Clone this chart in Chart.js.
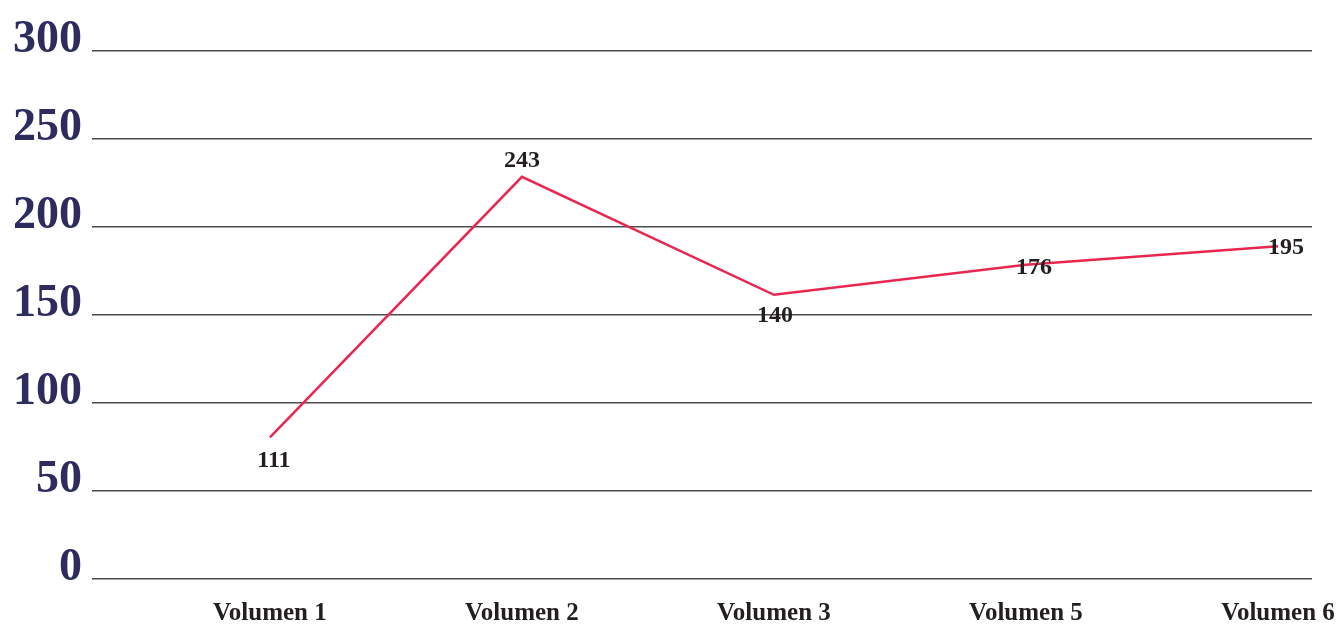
<!DOCTYPE html>
<html>
<head>
<meta charset="utf-8">
<script src="https://cdn.jsdelivr.net/npm/chart.js@4/dist/chart.umd.min.js"></script>
<style>
html,body{margin:0;padding:0;background:#fff;}
#wrap{width:1340px;height:627px;position:relative;}
</style>
</head>
<body>
<div id="wrap"><canvas id="c" width="1340" height="627"></canvas></div>
<script>
// Categories (x axis)
const categories = ['Volumen 1', 'Volumen 2', 'Volumen 3', 'Volumen 5', 'Volumen 6'];
// Line heights as read against the y axis
const lineValues = [80.5, 228.5, 161.5, 178.5, 189];
// Value labels printed next to the points
const pointLabels = ['111', '243', '140', '176', '195'];
// Y tick labels
const yTicks = [0, 50, 100, 150, 200, 250, 300];

const points = categories.map((c, i) => ({x: i, y: lineValues[i]}));

const labelPlugin = {
  id: 'pointLabels',
  afterDatasetsDraw(chart, args, opts) {
    const ctx = chart.ctx;
    const meta = chart.getDatasetMeta(0);
    ctx.save();
    ctx.font = opts.font;
    ctx.fillStyle = opts.color;
    ctx.textAlign = 'center';
    ctx.textBaseline = 'middle';
    meta.data.forEach((pt, i) => {
      const off = opts.offsets[i];
      ctx.fillText(pointLabels[i], pt.x + off[0], pt.y + off[1]);
    });
    ctx.restore();
  }
};

new Chart(document.getElementById('c'), {
  type: 'line',
  data: {
    datasets: [{
      data: points,
      borderColor: '#e8264f',
      borderWidth: 2.5,
      pointRadius: 0,
      tension: 0,
      fill: false
    }]
  },
  options: {
    responsive: false,
    animation: false,
    layout: {padding: {left: 3, right: 0, top: 51, bottom: 0}},
    plugins: {
      legend: {display: false},
      tooltip: {enabled: false},
      pointLabels: {
        font: 'bold 24px "Liberation Serif", "Times New Roman", serif',
        color: '#231f20',
        offsets: [[4, 23], [0, -16], [1, 21], [8, 3], [8, 1]]
      }
    },
    scales: {
      x: {
        type: 'linear',
        min: -0.706,
        max: 4.135,
        grid: {display: false, drawTicks: false},
        border: {display: false},
        afterBuildTicks: (axis) => { axis.ticks = categories.map((c, i) => ({value: i})); },
        afterFit: (axis) => { axis.paddingLeft = 0; axis.paddingRight = 28; axis.height = 48; },
        ticks: {
          autoSkip: false,
          maxRotation: 0,
          padding: 20,
          color: '#231f20',
          font: {family: '"Liberation Serif", "Times New Roman", serif', size: 25, weight: 'bold'},
          callback: (v) => categories[v]
        }
      },
      y: {
        min: 0,
        max: 300,
        grid: {color: '#4d4d4d', lineWidth: 1.5, drawTicks: false},
        border: {display: false},
        afterBuildTicks: (axis) => { axis.ticks = yTicks.map(v => ({value: v})); },
        afterFit: (axis) => { axis.paddingTop = 0; axis.paddingBottom = 0; },
        ticks: {
          padding: 10,
          labelOffset: -11,
          color: '#2e2c5f',
          font: {family: '"Liberation Serif", "Times New Roman", serif', size: 46, weight: 'bold', lineHeight: 0.6}
        }
      }
    }
  },
  plugins: [labelPlugin]
});
</script>
</body>
</html>
